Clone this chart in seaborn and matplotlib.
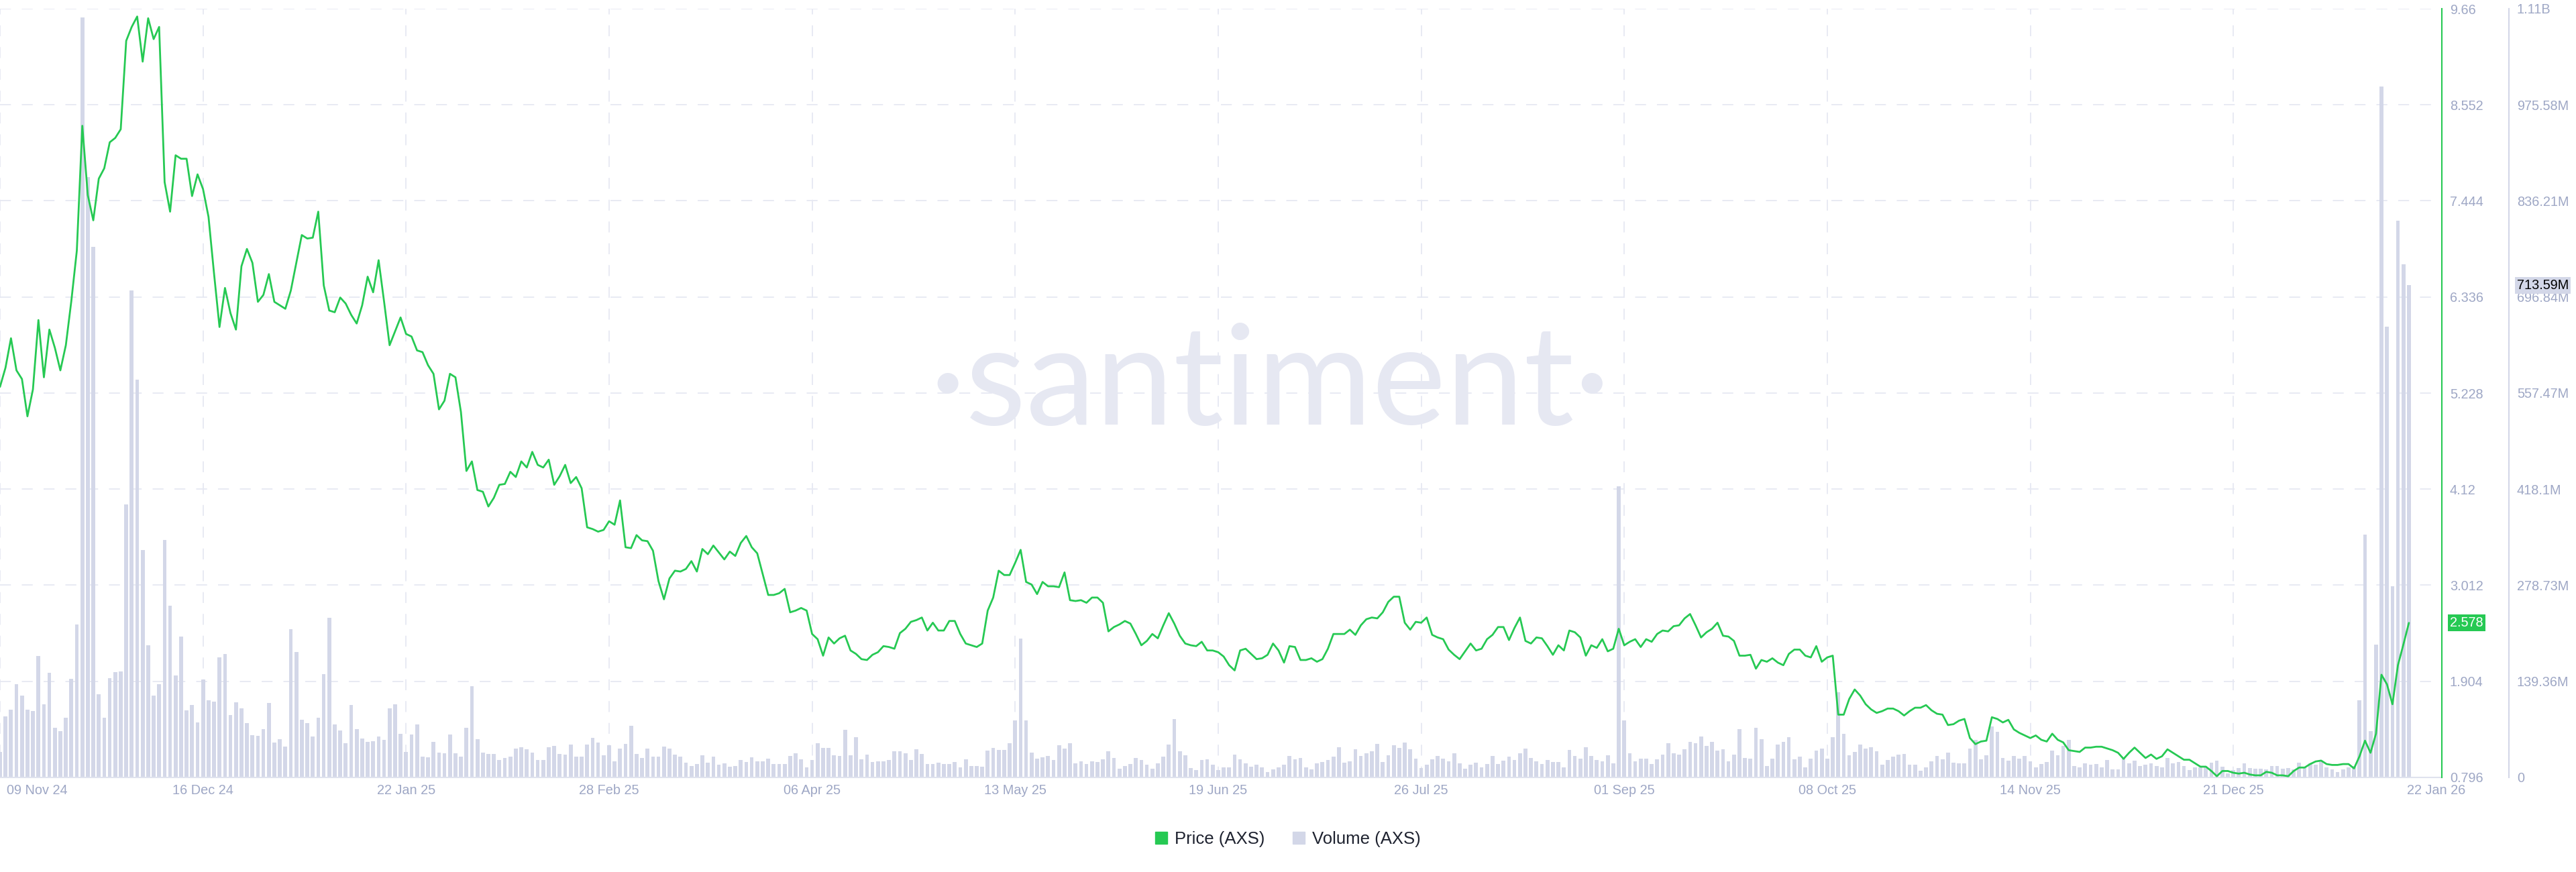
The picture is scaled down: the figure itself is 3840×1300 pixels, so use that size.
import numpy as np
import pandas as pd
import seaborn as sns
import matplotlib.pyplot as plt
from matplotlib.patches import Patch

# daily AXS data, 09 Nov 24 .. 22 Jan 26
start_date = "2024-11-09"

price = [
    5.30, 5.52, 5.86, 5.49, 5.39, 4.96, 5.27, 6.07, 5.41, 5.96,
    5.75, 5.49, 5.78, 6.29, 6.87, 8.31, 7.51, 7.22, 7.70, 7.82,
    8.12, 8.17, 8.27, 9.29, 9.45, 9.57, 9.05, 9.55, 9.31, 9.45,
    7.66, 7.32, 7.97, 7.93, 7.93, 7.50, 7.75, 7.58, 7.26, 6.61,
    5.99, 6.44, 6.15, 5.96, 6.69, 6.89, 6.73, 6.28, 6.36, 6.60,
    6.28, 6.24, 6.20, 6.41, 6.73, 7.05, 7.01, 7.02, 7.32, 6.47,
    6.18, 6.16, 6.33, 6.26, 6.13, 6.03, 6.24, 6.57, 6.39, 6.76,
    6.28, 5.78, 5.94, 6.10, 5.91, 5.88, 5.72, 5.70, 5.55, 5.45,
    5.04, 5.14, 5.45, 5.41, 5.01, 4.33, 4.44, 4.11, 4.09, 3.92,
    4.02, 4.17, 4.18, 4.32, 4.26, 4.44, 4.37, 4.55, 4.40, 4.37,
    4.46, 4.17, 4.27, 4.40, 4.19, 4.26, 4.13, 3.68, 3.66, 3.63,
    3.65, 3.75, 3.71, 3.99, 3.45, 3.44, 3.59, 3.53, 3.52, 3.41,
    3.06, 2.85, 3.09, 3.18, 3.17, 3.20, 3.29, 3.17, 3.43, 3.37,
    3.47, 3.39, 3.31, 3.40, 3.35, 3.50, 3.58, 3.45, 3.38, 3.14,
    2.90, 2.90, 2.92, 2.97, 2.70, 2.72, 2.75, 2.72, 2.45, 2.39,
    2.20, 2.41, 2.34, 2.40, 2.43, 2.26, 2.22, 2.16, 2.15, 2.21,
    2.24, 2.31, 2.30, 2.28, 2.46, 2.51, 2.59, 2.61, 2.64, 2.49,
    2.58, 2.49, 2.49, 2.60, 2.60, 2.45, 2.34, 2.32, 2.30, 2.34,
    2.72, 2.87, 3.18, 3.13, 3.13, 3.27, 3.42, 3.05, 3.02, 2.91,
    3.05, 3.00, 3.00, 2.99, 3.16, 2.84, 2.83, 2.84, 2.81, 2.87,
    2.87, 2.81, 2.48, 2.53, 2.56, 2.60, 2.57, 2.45, 2.32, 2.37,
    2.45, 2.40, 2.55, 2.69, 2.57, 2.43, 2.34, 2.32, 2.31, 2.36,
    2.26, 2.26, 2.24, 2.19, 2.09, 2.03, 2.26, 2.28, 2.22, 2.16,
    2.17, 2.21, 2.34, 2.26, 2.12, 2.31, 2.30, 2.15, 2.15, 2.17,
    2.13, 2.16, 2.28, 2.45, 2.45, 2.45, 2.50, 2.44, 2.55, 2.62,
    2.64, 2.63, 2.70, 2.82, 2.88, 2.88, 2.58, 2.50, 2.59, 2.58,
    2.64, 2.44, 2.41, 2.39, 2.27, 2.21, 2.16, 2.25, 2.34, 2.26,
    2.28, 2.39, 2.44, 2.53, 2.53, 2.38, 2.52, 2.64, 2.37, 2.34,
    2.41, 2.40, 2.31, 2.21, 2.32, 2.26, 2.49, 2.47, 2.41, 2.20,
    2.32, 2.29, 2.39, 2.25, 2.28, 2.51, 2.32, 2.36, 2.39, 2.30,
    2.39, 2.36, 2.45, 2.49, 2.48, 2.54, 2.55, 2.63, 2.68, 2.55,
    2.41, 2.47, 2.51, 2.58, 2.43, 2.42, 2.37, 2.20, 2.20, 2.21,
    2.05, 2.15, 2.13, 2.17, 2.12, 2.09, 2.22, 2.27, 2.27, 2.20,
    2.18, 2.31, 2.13, 2.18, 2.20, 1.52, 1.52, 1.70, 1.81, 1.74,
    1.64, 1.58, 1.54, 1.56, 1.59, 1.59, 1.56, 1.51, 1.56, 1.60,
    1.60, 1.63, 1.57, 1.53, 1.52, 1.40, 1.41, 1.45, 1.47, 1.25,
    1.18, 1.21, 1.22, 1.49, 1.47, 1.43, 1.46, 1.35, 1.31, 1.28,
    1.25, 1.28, 1.23, 1.21, 1.30, 1.23, 1.20, 1.11, 1.10, 1.09,
    1.14, 1.14, 1.15, 1.15, 1.13, 1.11, 1.08, 1.01, 1.08, 1.14,
    1.08, 1.02, 1.06, 1.01, 1.04, 1.12, 1.08, 1.04, 1.00, 1.00,
    0.96, 0.92, 0.92, 0.87, 0.81, 0.87, 0.87, 0.85, 0.84, 0.85,
    0.83, 0.82, 0.82, 0.86, 0.85, 0.82, 0.82, 0.81, 0.87, 0.91,
    0.91, 0.95, 0.98, 0.99, 0.95, 0.94, 0.94, 0.95, 0.95, 0.90,
    1.04, 1.22, 1.08, 1.30, 1.98, 1.87, 1.64, 2.09, 2.33, 2.578,
]

# volume in millions
volume_m = [
    37, 89, 98, 135, 119, 98, 96, 176, 106, 152,
    72, 67, 87, 143, 222, 1102, 871, 770, 121, 87,
    144, 153, 154, 396, 706, 577, 330, 192, 119, 135,
    344, 249, 148, 204, 97, 105, 80, 142, 112, 110,
    174, 179, 90, 109, 100, 79, 61, 60, 70, 108,
    51, 55, 45, 215, 182, 84, 79, 59, 87, 150,
    232, 77, 68, 50, 105, 70, 56, 52, 53, 59,
    54, 100, 106, 63, 37, 62, 77, 30, 29, 52,
    36, 35, 62, 35, 30, 72, 132, 55, 36, 34,
    34, 25, 28, 30, 42, 44, 41, 36, 25, 25,
    44, 46, 34, 33, 48, 30, 30, 48, 57, 51,
    32, 47, 23, 42, 49, 75, 34, 28, 42, 30,
    30, 45, 42, 33, 30, 21, 17, 19, 32, 21,
    30, 18, 20, 16, 17, 25, 22, 29, 23, 23,
    27, 19, 19, 19, 31, 35, 26, 15, 25, 50,
    43, 43, 32, 31, 69, 32, 58, 26, 33, 22,
    23, 23, 25, 38, 38, 35, 25, 41, 34, 19,
    19, 21, 19, 19, 22, 15, 26, 17, 17, 16,
    39, 43, 40, 40, 50, 83, 201, 83, 36, 27,
    29, 31, 25, 47, 42, 50, 20, 23, 19, 23,
    22, 26, 38, 28, 13, 17, 19, 28, 25, 18,
    13, 20, 30, 48, 85, 38, 32, 14, 11, 25,
    26, 18, 11, 15, 15, 33, 26, 20, 16, 18,
    15, 8, 12, 15, 18, 31, 26, 28, 15, 12,
    20, 22, 25, 30, 44, 21, 23, 41, 31, 35,
    38, 49, 22, 32, 47, 43, 51, 41, 27, 14,
    18, 26, 31, 27, 23, 35, 20, 13, 18, 21,
    15, 19, 31, 19, 24, 30, 25, 35, 42, 28,
    23, 19, 25, 22, 22, 15, 40, 31, 27, 44,
    31, 25, 23, 32, 20, 422, 83, 35, 23, 27,
    27, 19, 26, 33, 50, 35, 33, 41, 52, 50,
    59, 46, 52, 39, 41, 23, 33, 70, 28, 27,
    72, 55, 17, 27, 48, 52, 58, 26, 30, 15,
    27, 39, 42, 27, 58, 124, 63, 32, 37, 48,
    42, 44, 38, 18, 25, 30, 33, 34, 18, 18,
    10, 15, 23, 31, 26, 36, 21, 20, 20, 42,
    54, 26, 32, 74, 66, 28, 24, 31, 27, 31,
    23, 15, 19, 22, 39, 32, 46, 54, 17, 15,
    20, 18, 19, 15, 25, 12, 12, 27, 20, 24,
    17, 18, 20, 17, 15, 28, 20, 22, 17, 11,
    15, 15, 15, 21, 24, 16, 6, 11, 14, 20,
    14, 13, 13, 12, 17, 17, 13, 14, 12, 21,
    15, 20, 18, 23, 15, 12, 8, 12, 15, 17,
    112, 352, 67, 193, 1002, 654, 277, 807, 744, 713.59,
]

tick_dates = ["2024-11-09", "2024-12-16", "2025-01-22", "2025-02-28",
              "2025-04-06", "2025-05-13", "2025-06-19", "2025-07-26",
              "2025-09-01", "2025-10-08", "2025-11-14", "2025-12-21"]
last_date = "2026-01-22"

price_ticks = [0.796, 1.904, 3.012, 4.12, 5.228, 6.336, 7.444, 8.552, 9.66]
price_tick_labels = ["0.796", "1.904", "3.012", "4.12", "5.228", "6.336",
                     "7.444", "8.552", "9.66"]
volume_ticks_m = [0, 139.36, 278.73, 418.1, 557.47, 696.84, 836.21, 975.58, 1114.88]
volume_tick_labels = ["0", "139.36M", "278.73M", "418.1M", "557.47M",
                      "696.84M", "836.21M", "975.58M", "1.11B"]

GREEN = "#26c953"
BAR = "#d3d7e8"
GRID = "#e6e8f2"
TICK = "#9ea7c5"
TEXT = "#1f2330"
MARK = "#e6e8f2"

sns.set_style("white")
plt.rcParams["font.family"] = ["Liberation Sans", "DejaVu Sans"]

start = pd.Timestamp(start_date)
df = pd.DataFrame({"day": np.arange(len(price)), "price": price, "volume": volume_m})

fig = plt.figure(figsize=(38.4, 13), dpi=100)
ax = fig.add_axes([0, 141 / 1300, 3640 / 3840, 1146 / 1300])
ax2 = ax.twinx()

# volume bars (back) and price line (front)
sns.barplot(data=df, x="day", y="volume", native_scale=True, width=0.7,
            color=BAR, saturation=1, errorbar=None, linewidth=0, ax=ax)
sns.lineplot(data=df, x="day", y="price", color=GREEN, linewidth=2.0, ax=ax2)

ax.set_xlim(0, 445)
ax.set_ylim(0, volume_ticks_m[-1])
ax2.set_ylim(price_ticks[0], price_ticks[-1])
for a in (ax, ax2):
    a.set_xlabel("")
    a.set_ylabel("")

# x axis
tick_pos = [(pd.Timestamp(d) - start).days for d in tick_dates]
ax.set_xticks(tick_pos)
ax.set_xticklabels([""] + [pd.Timestamp(d).strftime("%d %b %y") for d in tick_dates[1:]])
ax.tick_params(axis="x", length=0, pad=7, labelsize=14.3, labelcolor=TICK)
ax.annotate(pd.Timestamp(tick_dates[0]).strftime("%d %b %y"), xy=(0, 0),
            xycoords=("data", "axes fraction"), xytext=(7, -7), textcoords="offset points",
            ha="left", va="top", fontsize=14.3, color=TICK, annotation_clip=False)
last_day = (pd.Timestamp(last_date) - start).days
ax.annotate(pd.Timestamp(last_date).strftime("%d %b %y"), xy=(last_day, 0),
            xycoords=("data", "axes fraction"), xytext=(-2, -7), textcoords="offset points",
            ha="left", va="top", fontsize=14.3, color=TICK, annotation_clip=False)

# volume axis (outer right)
ax.yaxis.tick_right()
ax.set_yticks(volume_ticks_m)
ax.set_yticklabels(volume_tick_labels)
ax.tick_params(axis="y", length=0, pad=8.6, labelsize=14.3, labelcolor=TICK,
               left=False, labelleft=False, right=False, labelright=True)
ax.spines["right"].set_position(("outward", 72))
ax.spines["right"].set_color(BAR)
ax.spines["right"].set_linewidth(1.5)
ax.spines["left"].set_visible(False)
ax.spines["top"].set_visible(False)
ax.spines["bottom"].set_color("#dfe2ee")
ax.spines["bottom"].set_linewidth(1.5)

ax.set_axisbelow(True)
ax.grid(True, color=GRID, linestyle=(0, (9, 9)), linewidth=1.3)

# price axis (inner right)
ax2.set_yticks(price_ticks)
ax2.set_yticklabels(price_tick_labels)
ax2.tick_params(axis="y", length=0, pad=8.6, labelsize=14.3, labelcolor=TICK)
for s in ("left", "top", "bottom"):
    ax2.spines[s].set_visible(False)
ax2.spines["right"].set_color(GREEN)
ax2.spines["right"].set_linewidth(1.5)

# last value tags
ax2.annotate(f"{price[-1]:.3f}", xy=(1, price[-1]), xycoords=("axes fraction", "data"),
             xytext=(8.6, 0), textcoords="offset points", ha="left", va="center",
             fontsize=14.3, color="white", annotation_clip=False, zorder=10,
             bbox=dict(boxstyle="square,pad=0.15", fc=GREEN, ec="none"))
ax.annotate(f"{volume_m[-1]:.2f}M", xy=(1, volume_m[-1]), xycoords=("axes fraction", "data"),
            xytext=(72 + 8.6, 0), textcoords="offset points", ha="left", va="center",
            fontsize=14.3, color="black", annotation_clip=False, zorder=10,
            bbox=dict(boxstyle="square,pad=0.15", fc=BAR, ec="none"))

# watermark
ax.text(1893 / 3840, (1300 - 633) / 1300, "\u00b7santiment\u00b7", transform=fig.transFigure,
        ha="center", va="baseline", fontsize=150, color=MARK, family="Lato", zorder=0.1)

# legend
handles = [Patch(color=GREEN, label="Price (AXS)"), Patch(color=BAR, label="Volume (AXS)")]
fig.legend(handles=handles, loc="center", bbox_to_anchor=(0.5, 1 - 1251 / 1300), ncol=2,
           frameon=False, fontsize=18.5, handlelength=0.7, handleheight=0.7,
           handletextpad=0.45, columnspacing=1.6, labelcolor=TEXT)

fig.savefig("out.png", dpi=100)
